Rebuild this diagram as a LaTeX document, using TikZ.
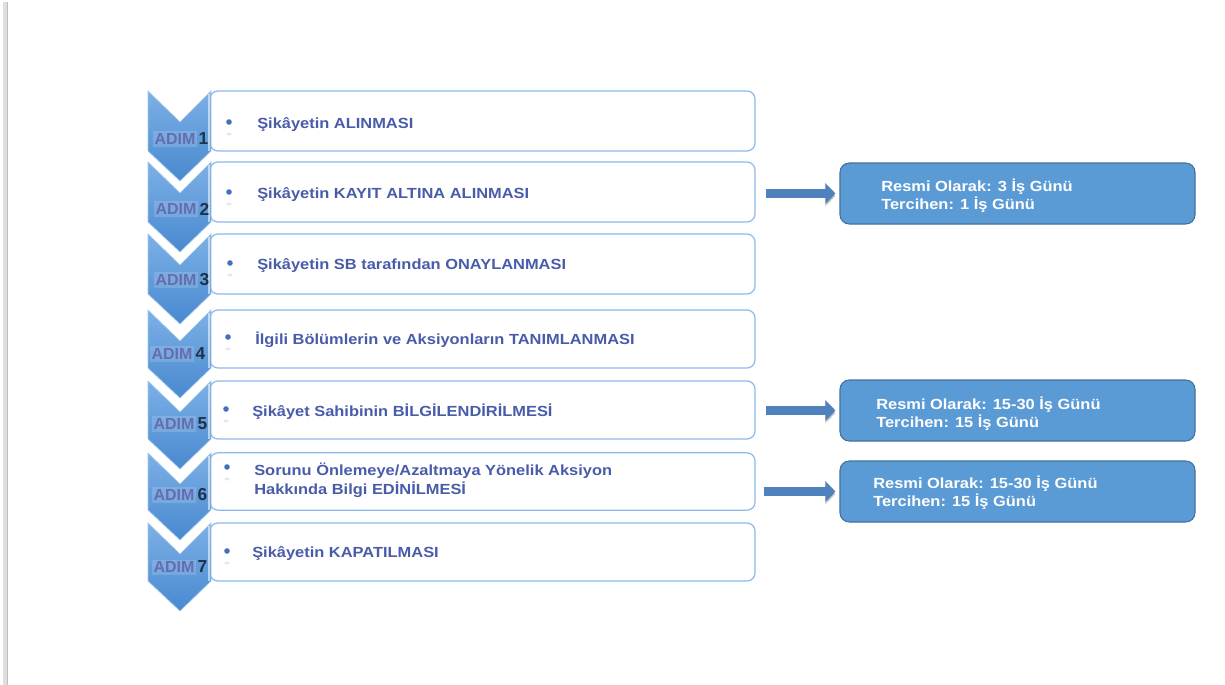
\documentclass[tikz,border=0pt]{standalone}
\usepackage{fontspec}
\setmainfont{Liberation Sans}
\newfontfamily\widesans[FakeStretch=1.12]{Liberation Sans}
\usetikzlibrary{arrows.meta}

\definecolor{boxline}{RGB}{140,185,235}
\definecolor{steptext}{RGB}{72,92,170}
\definecolor{bulletc}{RGB}{70,110,190}
\definecolor{chevtop}{RGB}{125,176,230}
\definecolor{chevbot}{RGB}{72,137,207}
\definecolor{adimc}{RGB}{98,98,168}
\definecolor{digitc}{RGB}{30,50,75}
\definecolor{notefill}{RGB}{91,155,213}
\definecolor{noteline}{RGB}{65,113,156}
\definecolor{arrowc}{RGB}{79,129,189}

% chevron between box top #1 and box bottom #2
\newcommand\chev[2]{%
  \shade[top color=chevtop, bottom color=chevbot, draw=chevtop!70!white, line width=0.5pt]
    (148,#1) -- (180,{#1+31}) -- (211,#1) -- (211,#2) -- (180,{#2+30}) -- (148,#2) -- cycle;
  \draw[white, opacity=0.55, line width=1.3pt] (209,{#1+3}) -- (209,#2);
}
% bullet with its faint reflection
\newcommand\bul[2]{%
  \fill[bulletc] (#1,#2) circle (2.1pt);
  \fill[black!9] (#1,{#2+12}) ellipse (2pt and 1.1pt);
}

\begin{document}
\begin{tikzpicture}[x=0.75pt,y=-0.75pt,
  stepbox/.style={draw=boxline, line width=0.9pt, fill=white, rounded corners=6pt,
    minimum width=408.75pt, inner sep=0pt},
  steptxt/.style={anchor=west, text=steptext, inner sep=0pt, align=left,
    font=\widesans\bfseries\fontsize{11}{14.25}\selectfont},
  adim/.style={text=adimc, fill=white, fill opacity=0.15, text opacity=0.85,
    inner sep=1.5pt, font=\bfseries\fontsize{12}{13}\selectfont},
  digit/.style={anchor=west, text=digitc, inner sep=0pt, xshift=0.5pt,
    font=\bfseries\fontsize{13}{14}\selectfont},
  notebox/.style={draw=noteline, line width=0.8pt, fill=notefill, rounded corners=7pt,
    minimum width=266.25pt, minimum height=45.75pt, inner sep=0pt},
  notetxt/.style={anchor=west, text=white, inner sep=0pt, align=left,
    font=\widesans\bfseries\fontsize{11}{13.5}\selectfont},
  flow/.style={draw=arrowc, line width=6.5pt, -{Triangle[length=7.5pt,width=15pt]},
    shorten <=7.5pt, shorten >=3pt,
    preaction={draw=black, draw opacity=0.18, fill opacity=0.18, transform canvas={yshift=-2pt}}}
]
\useasboundingbox (0,0) rectangle (1225,685);
\fill[white] (0,0) rectangle (1225,685);

% page edge strip
\fill[black!13] (3,2) rectangle (7,685);
\draw[black!25, line width=0.5pt] (7,2) -- (7,685);

% step boxes
\node[stepbox, minimum height=45pt]   (s1) at (482.5,121) {};
\node[stepbox, minimum height=45pt]   (s2) at (482.5,192) {};
\node[stepbox, minimum height=45pt]   (s3) at (482.5,264) {};
\node[stepbox, minimum height=43.5pt] (s4) at (482.5,339) {};
\node[stepbox, minimum height=43.5pt] (s5) at (482.5,410) {};
\node[stepbox, minimum height=43pt]   (s6) at (482.5,481.5) {};
\node[stepbox, minimum height=43.5pt] (s7) at (482.5,552) {};

% chevrons
\chev{91}{151}
\chev{162}{222}
\chev{234}{294}
\chev{310}{368}
\chev{381}{439}
\chev{453}{510}
\chev{523}{581}

% step labels
\node[adim] (a1) at (175,139) {ADIM}; \node[digit] (d1) at (a1.east) {1};
\node[adim] (a2) at (176,209) {ADIM}; \node[digit] (d2) at (a2.east) {2};
\node[adim] (a3) at (176,280) {ADIM}; \node[digit] (d3) at (a3.east) {3};
\node[adim] (a4) at (172,354) {ADIM}; \node[digit] (d4) at (a4.east) {4};
\node[adim] (a5) at (174,424) {ADIM}; \node[digit] (d5) at (a5.east) {5};
\node[adim] (a6) at (174,495) {ADIM}; \node[digit] (d6) at (a6.east) {6};
\node[adim] (a7) at (174,567) {ADIM}; \node[digit] (d7) at (a7.east) {7};

% step texts
\bul{229}{122} \node[steptxt] (t1) at (257,125) {Şikâyetin ALINMASI};
\bul{229}{192} \node[steptxt] (t2) at (257,195) {Şikâyetin KAYIT ALTINA ALINMASI};
\bul{230}{263} \node[steptxt] (t3) at (257,266) {Şikâyetin SB tarafından ONAYLANMASI};
\bul{228}{337} \node[steptxt] (t4) at (255,340) {İlgili Bölümlerin ve Aksiyonların TANIMLANMASI};
\bul{226}{409} \node[steptxt] (t5) at (252,412) {Şikâyet Sahibinin BİLGİLENDİRİLMESİ};
\bul{227}{467} \node[steptxt] (t6) at (254,480) {Sorunu Önlemeye/Azaltmaya Yönelik Aksiyon\\Hakkında Bilgi EDİNİLMESİ};
\bul{227}{551} \node[steptxt] (t7) at (252,554) {Şikâyetin KAPATILMASI};

% duration notes
\node[notebox] (r2) at (1017.5,193.5) {};
\node[notetxt] at (881,195.5) {Resmi Olarak: 3 İş Günü\\Tercihen: 1 İş Günü};
\node[notebox] (r5) at (1017.5,410.5) {};
\node[notetxt] at (876,414) {Resmi Olarak: 15-30 İş Günü\\Tercihen: 15 İş Günü};
\node[notebox] (r6) at (1017.5,491.5) {};
\node[notetxt] at (873,493) {Resmi Olarak: 15-30 İş Günü\\Tercihen: 15 İş Günü};

% arrows to notes
\draw[flow] (s2.east |- r2.west) -- (r2.west);
\draw[flow] (s5.east |- r5.west) -- (r5.west);
\draw[flow, shorten <=6pt] (s6.east |- r6.west) -- (r6.west);
\end{tikzpicture}
\end{document}
